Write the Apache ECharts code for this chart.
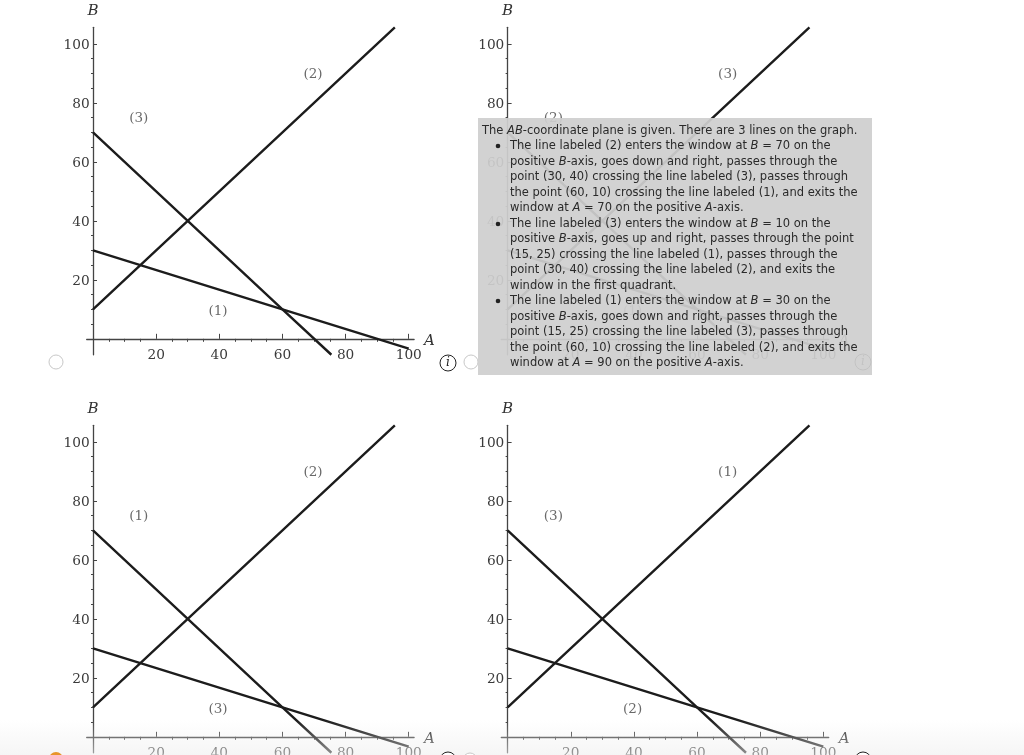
<!DOCTYPE html>
<html><head><meta charset="utf-8">
<style>html,body{margin:0;padding:0;background:#fff}#c{width:1024px;height:755px}</style>
<script src="https://cdn.jsdelivr.net/npm/echarts@6/dist/echarts.min.js"></script>
</head><body><div id="c"></div>
<script>
// Three lines shared by every panel, as [A, B] end points
const risingLine = [[0, 10], [30, 40], [95.6, 105.6]];
const steepFallingLine = [[0, 70], [30, 40], [60, 10], [75.5, -5.4]];
const shallowFallingLine = [[0, 30], [15, 25], [60, 10], [100, -3.3]];
// Positions of the three line labels, one per line
const labelPoints = [[69.7, 89.7], [14.5, 74.6], [39.6, 9.4]];
const panelLabels = [
  ['(2)', '(3)', '(1)'],
  ['(3)', '(2)', '(1)'],
  ['(2)', '(1)', '(3)'],
  ['(1)', '(3)', '(2)']
];
const majorTicks = [20, 40, 60, 80, 100];
const minorTicks = [5, 10, 15, 25, 30, 35, 45, 50, 55, 65, 70, 75, 85, 90, 95];
const descriptionLines = [
  [482, 131, '{n|The }{i|AB}{n|-coordinate plane is given. There are 3 lines on the graph.}'],
  [510, 146, '{n|The line labeled (2) enters the window at }{i|B}{n| = 70 on the}'],
  [510, 162, '{n|positive }{i|B}{n|-axis, goes down and right, passes through the}'],
  [510, 177, '{n|point (30, 40) crossing the line labeled (3), passes through}'],
  [510, 193, '{n|the point (60, 10) crossing the line labeled (1), and exits the}'],
  [510, 208, '{n|window at }{i|A}{n| = 70 on the positive }{i|A}{n|-axis.}'],
  [510, 224, '{n|The line labeled (3) enters the window at }{i|B}{n| = 10 on the}'],
  [510, 239, '{n|positive }{i|B}{n|-axis, goes up and right, passes through the point}'],
  [510, 255, '{n|(15, 25) crossing the line labeled (1), passes through the}'],
  [510, 270, '{n|point (30, 40) crossing the line labeled (2), and exits the}'],
  [510, 286, '{n|window in the first quadrant.}'],
  [510, 301, '{n|The line labeled (1) enters the window at }{i|B}{n| = 30 on the}'],
  [510, 317, '{n|positive }{i|B}{n|-axis, goes down and right, passes through the}'],
  [510, 332, '{n|point (15, 25) crossing the line labeled (3), passes through}'],
  [510, 348, '{n|the point (60, 10) crossing the line labeled (2), and exits the}'],
  [510, 363, '{n|window at }{i|A}{n| = 90 on the positive }{i|A}{n|-axis.}']
];
const bulletRows = [146, 224, 301];

const panelOrigins = [[0, 0], [414.6, 0], [0, 398], [414.6, 398]];
const SERIF = '"DejaVu Serif"';
const grid = [], xAxis = [], yAxis = [], series = [];
panelOrigins.forEach((o, p) => {
  grid.push({left: 86.7 + o[0], top: 27.3 + o[1], width: 327.4, height: 327.45, outerBoundsMode: 'none', containLabel: false});
  const baseX = {type: 'value', gridIndex: p, min: -2, max: 101.7, splitLine: {show: false}};
  const baseY = {type: 'value', gridIndex: p, min: -5.4, max: 105.6, splitLine: {show: false}};
  xAxis.push(Object.assign({}, baseX, {
    name: '{a|A}', nameLocation: 'end', nameGap: 10,
    nameTextStyle: {rich: {a: {fontFamily: SERIF, fontStyle: 'italic', fontWeight: 500, fontSize: 15, color: '#333', padding: [4, 0, 0, 0]}}},
    axisLine: {show: true, onZero: true, lineStyle: {color: '#444', width: 1.3}},
    axisTick: {show: true, inside: true, length: 5, customValues: majorTicks, lineStyle: {color: '#444', width: 1}},
    axisLabel: {show: true, margin: -6, customValues: majorTicks, fontFamily: SERIF, fontSize: 13.7, color: '#3a3a3a'}
  }));
  xAxis.push(Object.assign({}, baseX, {
    axisLine: {show: true, onZero: true, lineStyle: {color: '#444', width: 0}},
    axisTick: {show: true, inside: true, length: 3, customValues: minorTicks, lineStyle: {color: '#444', width: 1}},
    axisLabel: {show: false}
  }));
  yAxis.push(Object.assign({}, baseY, {
    name: 'B', nameLocation: 'end', nameGap: 9,
    nameTextStyle: {fontFamily: SERIF, fontStyle: 'italic', fontWeight: 500, fontSize: 15, color: '#333'},
    axisLine: {show: true, onZero: true, lineStyle: {color: '#444', width: 1.3}},
    axisTick: {show: true, inside: true, length: 4, customValues: majorTicks, lineStyle: {color: '#444', width: 1}},
    axisLabel: {show: true, margin: -3, customValues: majorTicks, formatter: '{v|{value}}',
      rich: {v: {fontFamily: SERIF, fontSize: 13.7, color: '#3a3a3a', padding: [4, 0, 0, 0]}}}
  }));
  yAxis.push(Object.assign({}, baseY, {
    axisLine: {show: true, onZero: true, lineStyle: {color: '#444', width: 0}},
    axisTick: {show: true, inside: true, length: 2, customValues: minorTicks, lineStyle: {color: '#444', width: 1}},
    axisLabel: {show: false}
  }));
  const xi = p * 2, yi = p * 2;
  [risingLine, steepFallingLine, shallowFallingLine].forEach(line => {
    series.push({type: 'line', xAxisIndex: xi, yAxisIndex: yi, data: line, showSymbol: false, silent: true,
      clip: true, lineStyle: {color: '#1c1c1c', width: 2.4}});
  });
  series.push({type: 'scatter', xAxisIndex: xi, yAxisIndex: yi, symbolSize: 0, silent: true,
    data: labelPoints.map((pt, k) => ({value: pt, label: {show: true, position: 'inside', formatter: panelLabels[p][k],
      fontFamily: SERIF, fontSize: 13.5, color: '#444'}}))});
});

function ring(x, y, r, stroke, z, w) {
  return {type: 'circle', shape: {cx: x, cy: y, r}, style: {fill: '#fff', stroke, lineWidth: w || 1}, z, silent: true};
}
function infoIcon(x, y, color, z) {
  return [
    {type: 'circle', shape: {cx: x, cy: y, r: 8}, style: {fill: 'transparent', stroke: color, lineWidth: 1}, z, silent: true},
    {type: 'text', x, y, style: {text: 'i', fontFamily: SERIF, fontStyle: 'italic', fontSize: 12, fill: color, align: 'center', verticalAlign: 'middle'}, z, silent: true}
  ];
}
const graphic = [
  ring(56, 362, 7, '#c8c8c8', 5),
  ring(471, 362, 7, '#c8c8c8', 5),
  ...infoIcon(448, 363, '#222', 5),
  ...infoIcon(863, 362, '#222', 5),
  {type: 'rect', shape: {x: 0, y: 720, width: 1024, height: 35},
    style: {fill: {type: 'linear', x: 0, y: 0, x2: 0, y2: 1, colorStops: [{offset: 0, color: 'rgba(238,238,238,0)'}, {offset: 1, color: 'rgba(238,238,238,0.55)'}]}}, z: 6, silent: true},
  {type: 'circle', shape: {cx: 56, cy: 759, r: 7}, style: {fill: '#e8952a'}, z: 7, silent: true},
  ring(448, 760, 8, '#222', 7),
  ring(470, 760, 7, '#c8c8c8', 7),
  ring(863, 760, 8, '#222', 7),
  {type: 'rect', shape: {x: 478, y: 118, width: 394, height: 257}, style: {fill: 'rgba(207,207,207,0.93)'}, z: 20, silent: true}
];
const FONT = '"DejaVu Sans"';
descriptionLines.forEach(l => {
  graphic.push({type: 'text', x: l[0], y: l[1], z: 21, silent: true, style: {
    text: l[2], verticalAlign: 'middle', align: 'left',
    rich: {
      n: {fontFamily: FONT, fontSize: 11.5, fill: '#2a2a2a'},
      i: {fontFamily: FONT, fontSize: 11.5, fontStyle: 'italic', fill: '#2a2a2a'}
    }
  }});
});
bulletRows.forEach(y => {
  graphic.push({type: 'circle', shape: {cx: 498, cy: y, r: 2.3}, style: {fill: '#222'}, z: 21, silent: true});
});

const chart = echarts.init(document.getElementById('c'), null, {renderer: 'canvas'});
chart.setOption({animation: false, backgroundColor: '#fff', grid, xAxis, yAxis, series, graphic: {elements: graphic}});
</script></body></html>
